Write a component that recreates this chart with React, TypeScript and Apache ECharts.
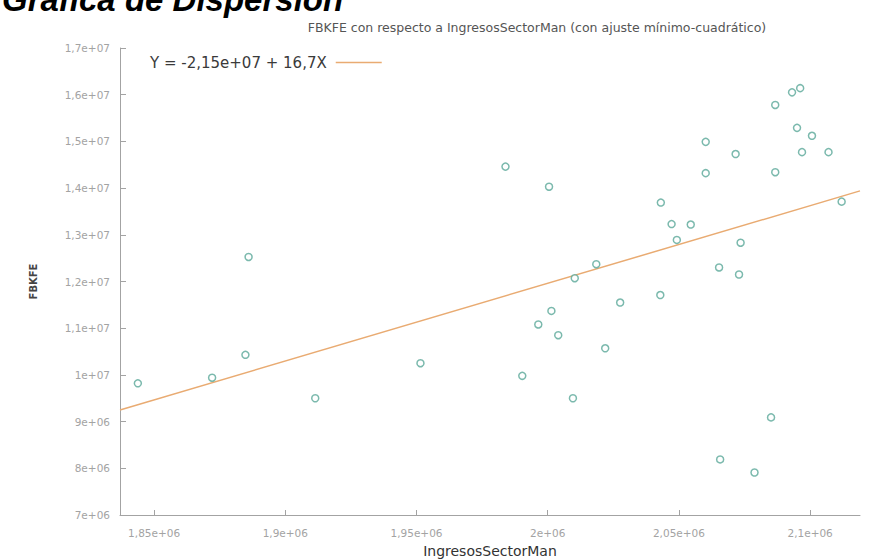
import React, { useEffect, useRef } from "react";
import * as echarts from "echarts";

// Data
const ingresosSectorMan = [
  1843800, 1872100, 1886000, 1884800, 1911400, 1951500, 1983900, 2000500,
  2043100, 2060200, 2071600, 2060200, 2086700, 2093100, 2096200, 2095000,
  2100700, 2096900, 2107000, 2086700, 2112000, 2047200, 2054500, 2049200,
  2073500, 2018500, 2010300, 2065300, 2072900, 2042900, 2027600, 2001400,
  1996400, 2004000, 2021900, 1990300, 2009600, 2085100, 2065700, 2078800,
];
const fbkfe = [
  9820000, 9940000, 12525000, 10430000, 9500000, 10250000, 14460000, 14030000,
  13690000, 14990000, 14730000, 14320000, 15780000, 16050000, 16140000, 15290000,
  15120000, 14770000, 14770000, 14340000, 13710000, 13230000, 13220000, 12890000,
  12830000, 12370000, 12070000, 12300000, 12150000, 11710000, 11550000, 11370000,
  11080000, 10850000, 10570000, 9980000, 9500000, 9090000, 8190000, 7910000,
];
// least-squares line end points (as drawn)
const fitX = [1837000, 2119000];
const fitY = [9250000, 13940000];
const fitName = "Y = -2,15e+07 + 16,7X";

const xTicks = [1850000, 1900000, 1950000, 2000000, 2050000, 2100000];
const xTickLabels = ["1,85e+06", "1,9e+06", "1,95e+06", "2e+06", "2,05e+06", "2,1e+06"];
const yTicks = [7e6, 8e6, 9e6, 1e7, 1.1e7, 1.2e7, 1.3e7, 1.4e7, 1.5e7, 1.6e7, 1.7e7];
const yTickLabels = [
  "7e+06", "8e+06", "9e+06", "1e+07", "1,1e+07", "1,2e+07",
  "1,3e+07", "1,4e+07", "1,5e+07", "1,6e+07", "1,7e+07",
];

const mainTitle = "Gráfica de Dispersión";
const subTitle = "FBKFE con respecto a IngresosSectorMan (con ajuste mínimo-cuadrático)";
const xName = "IngresosSectorMan";
const yName = "FBKFE";

export default function App() {
  const ref = useRef<HTMLDivElement>(null);
  useEffect(() => {
    if (!ref.current) return;
    const chart = echarts.init(ref.current, null, { renderer: "svg" });
    const axisColor = "#a3a3a3";
    const labelColor = "#a3a3a3";
    const font = "DejaVu Sans";
    const lookup = (ticks: number[], labels: string[]) => (v: number) => {
      const i = ticks.findIndex((t) => Math.abs(t - v) < 1);
      return i >= 0 ? labels[i] : "";
    };
    chart.setOption({
      animation: false,
      backgroundColor: "#ffffff",
      grid: { left: 120, right: 11, top: 48, bottom: 45, outerBoundsMode: "none", containLabel: false },
      graphic: [
        {
          type: "text",
          x: 2,
          y: -1,
          style: {
            text: mainTitle,
            font: "italic bold 33px 'Liberation Sans', Arial, sans-serif",
            fill: "#000",
            textAlign: "left",
            textVerticalAlign: "middle",
          },
        },
        {
          type: "text",
          x: 537,
          y: 27,
          style: {
            text: subTitle,
            font: `12.5px '${font}', sans-serif`,
            fill: "#555",
            textAlign: "center",
            textVerticalAlign: "middle",
          },
        },
      ],
      legend: {
        data: [{ name: fitName, icon: "rect" }],
        left: 150,
        top: 55,
        padding: 0,
        align: "right",
        itemWidth: 46,
        itemHeight: 1.5,
        itemGap: 7,
        textStyle: { fontFamily: font, fontSize: 15, color: "#3a3a3a", padding: [0, 4, 0, 0] },
      },
      xAxis: {
        type: "value",
        min: 1837000,
        max: 2119000,
        name: xName,
        nameLocation: "middle",
        nameGap: 29,
        nameTextStyle: { fontFamily: font, fontSize: 14, color: "#333" },
        splitLine: { show: false },
        axisLine: { show: true, lineStyle: { color: axisColor, width: 1 } },
        axisTick: {
          show: true,
          inside: true,
          length: 5,
          customValues: xTicks,
          lineStyle: { color: axisColor },
        },
        axisLabel: {
          customValues: xTicks,
          formatter: lookup(xTicks, xTickLabels),
          color: labelColor,
          fontFamily: font,
          fontSize: 10.5,
          margin: 12,
        },
      },
      yAxis: {
        type: "value",
        min: 7e6,
        max: 1.7e7,
        interval: 1e6,
        name: yName,
        nameLocation: "middle",
        nameRotate: 90,
        nameGap: 82,
        nameTextStyle: { fontFamily: font, fontSize: 10, color: "#444", fontWeight: "bold" },
        splitLine: { show: false },
        axisLine: { show: true, lineStyle: { color: axisColor, width: 1 } },
        axisTick: { show: true, inside: true, length: 6, lineStyle: { color: axisColor } },
        axisLabel: {
          formatter: lookup(yTicks, yTickLabels),
          color: labelColor,
          fontFamily: font,
          fontSize: 10.5,
          margin: 10,
        },
      },
      series: [
        {
          name: "FBKFE",
          type: "scatter",
          symbol: "circle",
          symbolSize: 7,
          itemStyle: { color: "#ffffff", borderColor: "#5aa898", borderWidth: 1.5 },
          data: ingresosSectorMan.map((x, i) => [x, fbkfe[i]]),
          z: 3,
        },
        {
          name: fitName,
          type: "line",
          showSymbol: false,
          symbol: "none",
          lineStyle: { color: "#e9ab72", width: 1.5 },
          itemStyle: { color: "#e9ab72" },
          data: fitX.map((x, i) => [x, fitY[i]]),
          z: 2,
        },
      ],
    });
    return () => chart.dispose();
  }, []);
  return (
    <div
      ref={ref}
      style={{ position: "fixed", left: 0, top: 0, width: 871, height: 560 }}
    />
  );
}
